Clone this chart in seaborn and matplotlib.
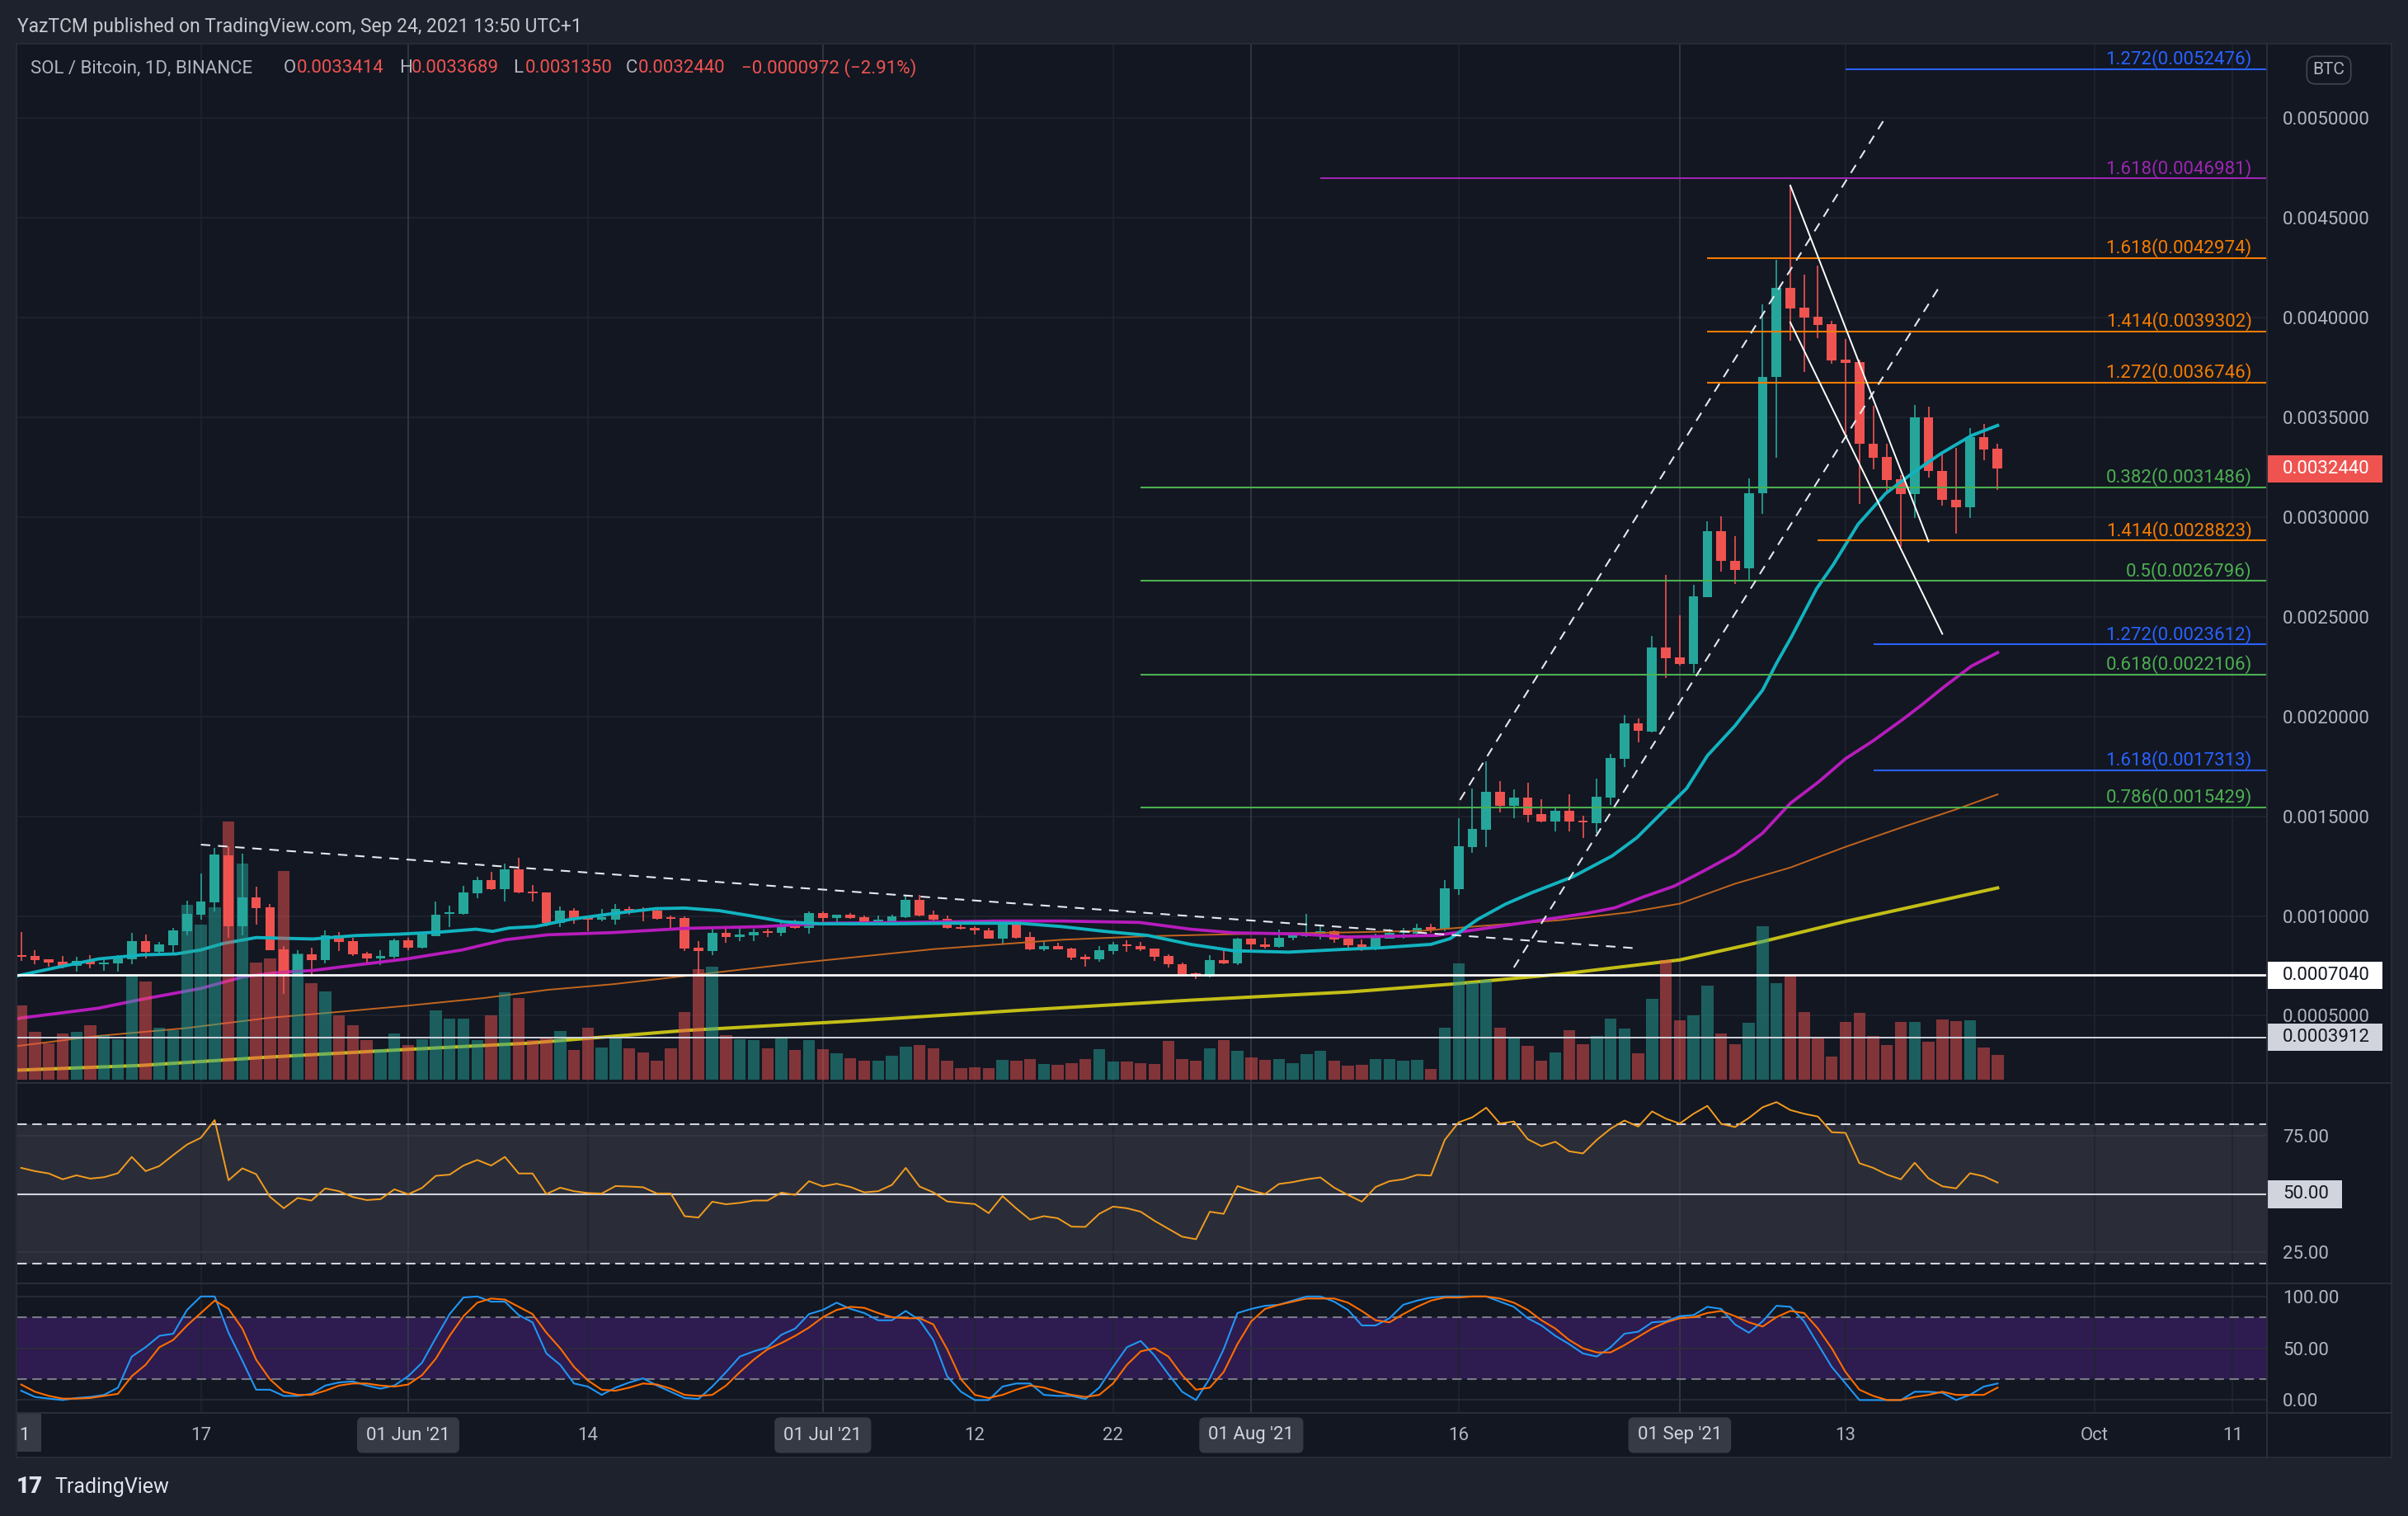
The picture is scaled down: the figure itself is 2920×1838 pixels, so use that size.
import numpy as np
import pandas as pd
import matplotlib
matplotlib.use("Agg")
import matplotlib.pyplot as plt
import matplotlib.transforms as mtransforms
from matplotlib.patches import Rectangle
from matplotlib.lines import Line2D
import seaborn as sns

plt.rcParams["font.family"] = ["Roboto", "DejaVu Sans"]

# ---------------- data: SOL / BTC daily, Binance (prices in 1e-4 BTC) ----------------
dates = pd.date_range("2021-05-04", "2021-09-24", freq="D")
day = np.arange(len(dates))  # days since 4 May 2021

open_ = [8.03, 8.00, 7.83, 7.71, 7.52, 7.74, 7.57, 7.64, 7.85, 8.73, 8.22, 8.55, 9.25, 10.08, 10.70, 13.04, 9.50, 10.93, 10.44, 8.33,
         7.09, 8.08, 7.81, 9.03, 8.74, 8.12, 7.89, 7.96,
         8.78, 8.43, 9.00, 10.09, 10.11, 11.15, 11.79, 11.35, 12.34, 11.22, 11.18, 9.65, 10.26, 9.94, 9.82, 9.83, 10.36, 10.31,
         10.27, 9.91, 9.90, 8.41, 8.26, 9.16, 8.96, 9.05, 9.23, 9.17, 9.57, 9.42,
         10.15, 9.91, 10.05, 9.94, 9.72, 9.74, 9.94, 10.81, 10.07, 9.86, 9.45, 9.40, 9.29, 8.88, 9.60, 8.95, 8.34, 8.48, 8.37, 7.96,
         7.85, 8.26, 8.58, 8.50, 8.37, 8.00, 7.59, 7.12, 6.95, 7.79, 7.64,
         8.87, 8.58, 8.47, 8.91, 8.98, 9.10, 9.24, 8.87, 8.58, 8.39, 8.87, 9.15, 9.10, 9.43, 9.31, 11.36, 13.47, 14.32, 16.23, 15.54,
         15.93, 15.10, 14.73, 15.28, 14.78, 14.66, 15.93, 17.88, 19.65, 19.24, 23.47,
         22.96, 22.64, 25.99, 29.28, 27.82, 27.43, 31.22, 37.02, 41.50, 40.49, 40.07, 39.68, 37.92, 37.77, 33.70, 33.02, 31.91, 31.16,
         35.02, 32.33, 30.89, 30.48, 34.00, 33.414]
high = [9.20, 8.29, 7.85, 8.00, 7.96, 8.03, 7.82, 8.05, 9.16, 9.06, 8.69, 9.40, 10.77, 12.13, 13.40, 13.50, 13.13, 11.47, 10.60, 8.50,
        8.29, 8.40, 9.28, 9.20, 8.91, 8.22, 8.27, 8.87,
        8.92, 9.17, 10.73, 10.52, 11.51, 11.97, 12.20, 12.62, 12.92, 11.55, 11.20, 10.48, 10.40, 9.97, 10.36, 10.60, 10.49, 10.42,
        10.38, 10.02, 9.98, 8.74, 9.45, 9.45, 9.39, 9.38, 9.36, 9.83, 9.83, 10.22,
        10.22, 10.07, 10.15, 10.02, 10.02, 10.07, 11.02, 11.06, 10.26, 10.01, 9.57, 9.50, 9.39, 9.75, 9.62, 9.20, 8.73, 8.67, 8.40,
        8.08, 8.50, 8.69, 8.78, 8.70, 8.38, 8.10, 7.67, 7.17, 8.04, 8.29, 8.89,
        8.88, 8.91, 9.32, 9.17, 10.11, 9.57, 9.28, 8.99, 8.83, 9.13, 9.36, 9.40, 9.63, 9.63, 11.82, 14.89, 16.39, 17.74, 16.76, 16.34,
        16.69, 15.86, 15.47, 16.11, 15.03, 16.89, 18.13, 20.06, 19.90, 24.04, 27.10,
        25.07, 26.62, 29.79, 30.03, 29.07, 31.94, 40.67, 42.91, 46.67, 42.16, 42.61, 39.86, 38.93, 37.92, 35.59, 33.70, 32.12, 35.62,
        35.56, 33.28, 33.46, 34.45, 34.66, 33.689]
low = [7.75, 7.59, 7.48, 7.38, 7.23, 7.38, 7.27, 7.23, 7.59, 7.89, 8.10, 8.16, 9.03, 9.82, 10.22, 8.92, 9.03, 9.58, 8.28, 6.10,
       6.99, 6.99, 7.64, 8.25, 8.00, 7.56, 7.54, 7.89,
       8.30, 8.37, 8.98, 9.45, 10.05, 10.91, 11.31, 10.73, 11.15, 10.74, 9.47, 9.43, 9.61, 9.25, 9.75, 9.58, 10.05, 9.72, 9.83, 9.34,
       8.26, 6.99, 8.05, 8.66, 8.76, 8.76, 8.96, 9.00, 9.36, 9.13,
       9.69, 9.61, 9.87, 9.64, 9.64, 9.71, 9.91, 10.00, 9.75, 9.38, 9.31, 9.09, 8.87, 8.59, 8.88, 8.29, 8.26, 8.33, 7.81, 7.48,
       7.72, 8.10, 8.22, 8.26, 7.76, 7.41, 7.06, 6.86, 6.91, 7.59, 7.56,
       8.30, 8.38, 8.41, 8.80, 8.96, 8.84, 8.65, 8.41, 8.25, 8.30, 8.85, 8.87, 9.08, 9.17, 9.22, 11.06, 13.17, 13.45, 15.19, 14.89,
       14.71, 14.69, 14.25, 14.25, 13.91, 14.16, 15.56, 17.47, 18.71, 19.19, 21.93,
       22.55, 22.17, 25.99, 27.28, 26.65, 26.86, 30.15, 32.96, 38.87, 37.26, 38.96, 37.71, 34.18, 30.65, 32.39, 31.25, 28.50, 29.97,
       32.00, 30.59, 29.16, 29.97, 32.87, 31.35]
close = [7.96, 7.81, 7.68, 7.50, 7.74, 7.60, 7.67, 7.89, 8.73, 8.22, 8.58, 9.28, 10.11, 10.71, 13.08, 9.50, 10.95, 10.41, 8.30, 7.09,
         8.08, 7.81, 9.03, 8.72, 8.10, 7.89, 8.00, 8.78,
         8.43, 9.07, 10.07, 10.15, 11.18, 11.79, 11.35, 12.34, 11.18, 11.15, 9.65, 10.26, 9.91, 9.80, 9.96, 10.34, 10.27, 10.26,
         9.87, 9.86, 8.37, 8.26, 9.16, 8.96, 9.07, 9.20, 9.14, 9.57, 9.42, 10.15,
         9.91, 10.05, 9.91, 9.71, 9.78, 9.98, 10.81, 10.04, 9.82, 9.42, 9.38, 9.29, 8.88, 9.61, 8.92, 8.33, 8.48, 8.34, 7.93, 7.85,
         8.27, 8.58, 8.48, 8.34, 7.97, 7.57, 7.09, 6.95, 7.79, 7.64, 8.87,
         8.56, 8.44, 8.91, 9.02, 9.12, 9.24, 8.84, 8.53, 8.35, 8.92, 9.15, 9.24, 9.40, 9.31, 11.40, 13.49, 14.37, 16.23, 15.54, 15.93,
         15.08, 14.73, 15.28, 14.73, 14.69, 15.97, 17.93, 19.65, 19.28, 23.47, 22.91,
         22.64, 26.05, 29.28, 27.79, 27.37, 31.22, 37.02, 41.50, 40.46, 40.01, 39.62, 37.86, 37.74, 33.70, 32.96, 31.85, 31.16, 35.02,
         32.30, 30.86, 30.48, 34.00, 33.412, 32.44]
# volume, relative units
volume = [90, 58, 44, 56, 58, 66, 54, 49, 128, 119, 63, 60, 212, 188, 209, 313, 262, 142, 147, 253, 153, 117, 107, 78, 66, 48, 37, 56,
          42, 49, 84, 74, 74, 48, 78, 106, 99, 48, 51, 59, 36, 63, 39, 50, 38, 33, 23, 38, 82, 134, 137, 54, 49, 48, 38, 51, 36, 48,
          37, 32, 26, 23, 23, 29, 40, 42, 38, 23, 14, 15, 14, 24, 23, 25, 19, 18, 20, 25, 37, 22, 22, 20, 19, 47, 25, 23, 38, 48, 35,
          27, 24, 25, 20, 31, 35, 23, 17, 18, 25, 25, 23, 24, 13, 63, 141, 118, 121, 63, 52, 41, 23, 33, 60, 43, 53, 74, 62, 32, 98, 145,
          72, 78, 114, 56, 43, 69, 186, 117, 126, 82, 50, 28, 70, 81, 53, 42, 70, 70, 46, 73, 71, 72, 39, 30]

# moving averages read at sample days
ma20_day = [-0.3, 2.5, 5.6, 8.7, 11.2, 13.0, 14.6, 17.0, 19.2, 21.1, 24.2, 27.3, 30.4, 32.9, 34.1, 35.3, 37.2, 39.7, 42.8, 45.9,
            48.0, 50.5, 52.7, 55.2, 57.9, 62.9, 67.6, 72.2, 75.3, 78.4, 81.5, 84.6, 87.7, 91.7, 96.0, 98.4, 102.0, 103.4, 105.4,
            107.4, 109.3, 112.3, 115.1, 116.9, 118.9, 120.5, 122.0, 124.0, 126.0, 127.0, 128.1, 129.9, 131.1, 132.9, 134.9, 136.9,
            138.9, 141.1, 143.0]
ma20 = [7.00, 7.41, 7.85, 8.05, 8.10, 8.30, 8.62, 8.92, 8.88, 8.85, 9.02, 9.09, 9.20, 9.34, 9.23, 9.40, 9.47, 9.83, 10.12, 10.37,
        10.40, 10.27, 10.02, 9.71, 9.61, 9.61, 9.64, 9.64, 9.47, 9.23, 9.03, 8.58, 8.26, 8.19, 8.34, 8.41, 8.58, 8.87, 9.84, 10.60,
        11.17, 11.98, 13.01, 13.93, 15.31, 16.4, 18.04, 19.54, 21.33, 22.67, 24.02, 26.41, 27.61, 29.64, 31.19, 32.24, 33.19, 34.09,
        34.60]
ma50_day = [-0.3, 5.6, 8.7, 13.0, 16.1, 18.6, 21.1, 24.2, 27.9, 31.9, 35.0, 38.1, 42.8, 48.0, 53.6, 58.3, 62.9, 70.7, 75.3, 80.9,
            84.6, 87.7, 92.4, 96.0, 99.4, 102.4, 105.4, 109.3, 113.3, 115.3, 117.3, 119.6, 121.6, 124.0, 126.0, 128.0, 130.0,
            132.0, 134.0, 136.1, 137.5, 139.1, 141.1, 143.0]
ma50 = [4.86, 5.38, 5.82, 6.37, 6.96, 7.17, 7.27, 7.54, 7.85, 8.30, 8.81, 9.06, 9.17, 9.38, 9.47, 9.64, 9.67, 9.75, 9.75, 9.68,
        9.34, 9.16, 9.10, 8.95, 8.99, 9.03, 9.33, 9.72, 10.14, 10.41, 10.94, 11.50, 12.21, 13.11, 14.16, 15.65, 16.70, 17.89, 18.79,
        19.84, 20.58, 21.48, 22.53, 23.21]
ma100_day = [-0.3, 5.6, 11.8, 18.0, 22.6, 27.9, 33.5, 38.1, 42.8, 48.0, 56.7, 66.0, 75.3, 81.5, 87.7, 96.0, 101.4, 105.4, 111.3,
             116.3, 120.0, 124.0, 128.0, 132.0, 136.0, 140.0, 143.0]
ma100 = [3.48, 3.99, 4.37, 4.90, 5.17, 5.50, 5.89, 6.30, 6.58, 6.99, 7.68, 8.34, 8.81, 8.99, 9.09, 9.18, 9.26, 9.49, 9.79, 10.18,
         10.62, 11.62, 12.43, 13.47, 14.43, 15.35, 16.10]
ma200_day = [-0.3, 8.7, 18.0, 27.9, 36.6, 48.0, 59.8, 72.2, 84.6, 96.0, 103.4, 111.3, 120.0, 126.0, 132.0, 137.9, 143.0]
ma200 = [2.27, 2.51, 2.93, 3.31, 3.62, 4.26, 4.72, 5.27, 5.78, 6.19, 6.58, 7.08, 7.80, 8.72, 9.73, 10.63, 11.41]

rsi = [61.2, 59.8, 58.8, 56.3, 58.0, 56.6, 57.2, 58.9, 65.9, 59.8, 62.0, 66.7, 71.2, 74.1, 81.7, 55.9, 61.0, 58.5, 48.8, 43.9,
       48.3, 47.2, 52.4, 51.2, 48.7, 47.4, 47.8, 52.0, 49.9, 52.6, 57.8, 58.3, 62.2, 64.6, 62.2, 65.9, 58.8, 58.8, 50.0, 52.7,
       51.2, 50.4, 50.2, 53.4, 53.2, 52.9, 50.2, 50.2, 40.5, 39.9, 46.7, 45.6, 46.2, 47.2, 47.2, 50.6, 49.6, 55.5, 53.3, 54.4,
       53.0, 50.7, 51.2, 53.9, 61.2, 53.2, 50.7, 46.8, 46.2, 45.7, 41.8, 49.1, 43.8, 39.0, 40.5, 39.6, 36.0, 35.9, 41.5, 44.6,
       43.9, 42.4, 38.5, 35.1, 31.7, 30.6, 42.4, 41.5,
       53.4, 51.5, 50.0, 54.3, 55.1, 56.3, 57.1, 52.7, 49.6, 46.7, 53.0, 55.5, 56.3, 58.2, 57.9, 73.2, 80.7, 82.9, 87.0, 80.2,
       81.1, 73.5, 70.5, 72.4, 68.3, 67.4, 73.2, 78.0, 81.5, 78.9, 85.4, 82.3, 80.2, 84.4, 87.8, 80.1, 78.7, 82.6, 87.2, 89.4,
       86.0, 84.4, 83.2, 76.5, 76.2, 63.2, 61.2, 58.3, 56.3, 63.4, 56.7, 53.3, 52.4, 58.9, 57.6, 54.9]
stoch_k = [9, 3, 1.4, 0, 2, 3, 5, 12, 42, 51, 62, 64, 87, 100, 100, 65, 38, 10, 10, 4, 4, 6, 14, 17, 18, 14, 11, 14, 23, 36,
           60, 83, 99, 100, 95, 95, 82, 75, 45, 34, 16, 13, 5, 12, 17, 21, 14, 8, 2, 1, 13, 27, 42, 47, 51, 63, 69, 83, 87, 94,
           88, 84, 77, 77, 86, 77, 58, 23, 8, 0, 0, 13, 16, 16, 5, 4, 4, 1, 12, 32, 51, 57, 43, 25, 8, 0, 21, 49,
           84, 88, 91, 92, 96, 100, 100, 95, 87, 72, 72, 79, 92, 96, 99, 100, 100, 100, 100, 95, 90, 79, 72, 62, 54, 45, 42, 51,
           64, 66, 75, 76, 81, 82, 90, 88, 73, 65, 76, 91, 90, 76, 54, 32, 16, 0, 0, 0, 0, 8, 8, 7, 0, 5, 13, 16]
stoch_d = [15, 8, 4, 1.4, 1.4, 2, 4, 6, 23, 34, 51, 58, 72, 84, 96, 88, 69, 39, 20, 8, 5, 5, 9, 14, 16, 16, 14, 13, 15, 24,
           40, 62, 81, 94, 98, 97, 90, 83, 65, 50, 32, 19, 10, 9, 12, 16, 15, 11, 5, 4, 5, 14, 27, 39, 49, 55, 62, 70, 80, 87,
           90, 89, 84, 80, 79, 79, 73, 49, 20, 5, 2, 5, 10, 14, 12, 8, 5, 3, 5, 16, 34, 47, 50, 42, 24, 10, 12, 27,
           54, 76, 88, 92, 95, 98, 98, 98, 94, 86, 77, 75, 83, 90, 96, 99, 99, 100, 100, 98, 94, 87, 77, 69, 58, 50, 46, 46,
           53, 61, 69, 75, 79, 80, 84, 86, 81, 75, 71, 80, 86, 84, 69, 50, 27, 10, 4, 0, 0, 3, 5, 8, 5, 5, 5, 12]

# drawings on the chart
fib_ratio = ["1.272", "1.618", "1.618", "1.414", "1.272", "0.382", "1.414", "0.5", "1.272", "0.618", "1.618", "0.786"]
fib_price = [52.476, 46.981, 42.974, 39.302, 36.746, 31.486, 28.823, 26.796, 23.612, 22.106, 17.313, 15.429]
fib_from = [132, 94, 122, 122, 122, 81, 130, 81, 134, 81, 134, 81]
fib_kind = ["blue", "purple", "orange", "orange", "orange", "green", "orange", "green", "blue", "green", "blue", "green"]
level_white = 7.040
level_grey = 3.912
dash_lines = {"desc": ([13.0, 117.1], [13.58, 8.37]),
              "ch_up": ([104.1, 134.9], [15.82, 50.06]),
              "ch_lo": ([108.0, 138.9], [7.42, 41.68])}
solid_lines = {"w1": ([128.0, 138.0], [46.63, 28.78]),
               "w2": ([128.0, 139.0], [39.77, 24.15])}

tick_day = [13, 28, 41, 58, 69, 79, 89, 104, 120, 132, 150, 160]
tick_text = ["17", "01 Jun '21", "14", "01 Jul '21", "12", "22", "01 Aug '21", "16", "01 Sep '21", "13", "Oct", "11"]

# ---------------- style ----------------
W, H = 2920, 1838
BG, OUTER, BORDER = "#131722", "#1e222d", "#2a2e39"
GRID, GRID_M = "#20242f", "#363a45"
TXT = "#b2b5be"
UP, DOWN = "#26a69a", "#ef5350"
FIBC = {"blue": "#2962ff", "purple": "#9c27b0", "orange": "#f57c00", "green": "#4caf50"}
XL, XR = -0.28, 162.49
FS = 16

fig = plt.figure(figsize=(W / 100, H / 100), dpi=100)
fig.patch.set_facecolor(OUTER)
fig.add_artist(Rectangle((20 / W, 1 - 1767 / H), 2880 / W, 1714 / H, transform=fig.transFigure,
                         facecolor=BG, edgecolor=BORDER, lw=1.2, zorder=-10))


def add_ax(x0, y0, x1, y1):
    a = fig.add_axes([x0 / W, 1 - y1 / H, (x1 - x0) / W, (y1 - y0) / H])
    a.set_facecolor("none")
    for s in a.spines.values():
        s.set_visible(False)
    a.set_xlim(XL, XR)
    a.set_xticks([])
    return a


ax = add_ax(21, 54, 2749, 1312)
ax.set_ylim(1.67, 53.70)
axv = ax.twinx()
axv.set_ylim(-3, 1255)
axp = ax.twinx()
axp.set_ylim(1.67, 53.70)
for a in (axv, axp):
    for s in a.spines.values():
        s.set_visible(False)
    a.set_yticks([])
    a.set_xlim(XL, XR)

ax_r = add_ax(21, 1313, 2749, 1555)
ax_r.set_ylim(12.02, 97.6)
ax_s = add_ax(21, 1556, 2749, 1712)
ax_s.set_ylim(-11.6, 112.6)
ax_t = add_ax(21, 1713, 2749, 1767)
ax_t.set_ylim(0, 1)
ax_t.set_yticks([])

# separators
for yy in (1312.5, 1555.5, 1712.5):
    fig.add_artist(Line2D([20 / W, 2900 / W], [1 - yy / H] * 2, color=BORDER, lw=1.5, zorder=30))
fig.add_artist(Line2D([2749 / W] * 2, [1 - 53 / H, 1 - 1767 / H], color=BORDER, lw=1.5, zorder=30))

# grid
for v in range(5, 55, 5):
    ax.axhline(v, color=GRID, lw=1.2, zorder=0)
for d, t in zip(tick_day, tick_text):
    c = GRID_M if t.startswith("01") else GRID
    for a in (ax, ax_r, ax_s):
        a.axvline(d, color=c, lw=1.2, zorder=0.5)

# ---------------- main pane ----------------
o, h_, l_, c_ = map(np.array, (open_, high, low, close))
up = c_ >= o
cols = np.where(up, UP, DOWN)
ax.vlines(day, l_, h_, colors=cols, lw=1.2, zorder=2)
ax.bar(day, np.maximum(np.abs(c_ - o), 0.08), bottom=np.minimum(o, c_), width=0.7, color=cols, lw=0, zorder=2.5)

sns.lineplot(x=ma200_day, y=ma200, ax=ax, color="#c3be16", lw=2.9, zorder=3, legend=False)
sns.lineplot(x=ma100_day, y=ma100, ax=ax, color="#c2651e", lw=1.4, zorder=3, legend=False)
sns.lineplot(x=ma50_day, y=ma50, ax=ax, color="#b71cbc", lw=2.7, zorder=3, legend=False)
sns.lineplot(x=ma20_day, y=ma20, ax=ax, color="#12b3c0", lw=2.8, zorder=3, legend=False)
ax.set_xlim(XL, XR)
ax.set_ylim(1.67, 53.70)
ax.set_xlabel("")
ax.set_ylabel("")

axv.bar(day, volume, width=0.86, color=cols, alpha=0.5, lw=0)

axp.axhline(level_white, color="#ffffff", lw=2.0, zorder=2)
axp.axhline(level_grey, color="#d1d4dc", lw=1.4, zorder=2)
for r, v, d0, k in zip(fib_ratio, fib_price, fib_from, fib_kind):
    axp.hlines(v, d0, XR, color=FIBC[k], lw=1.5, zorder=3)
    axp.text(161.4, v + 0.25, f"{r}({v * 1e-4:.7f})", color=FIBC[k], fontsize=FS, ha="right", va="baseline", zorder=4)
for xs, ys in dash_lines.values():
    axp.plot(xs, ys, color="#e6e8ee", lw=1.5, dashes=(5.5, 4.5), zorder=4)
for xs, ys in solid_lines.values():
    axp.plot(xs, ys, color="#ffffff", lw=1.4, zorder=4)

# price axis
ax.yaxis.tick_right()
ax.set_yticks(np.arange(5, 55, 5))
ax.set_yticklabels([f"{v * 1e-4:.7f}" for v in np.arange(5, 55, 5)])
ax.tick_params(axis="y", length=0, pad=13.7, labelsize=FS, labelcolor=TXT)


def axis_tag(a, val, txt, fc, tc, w_px, h_px, units_per_px):
    tr = mtransforms.blended_transform_factory(a.transAxes, a.transData)
    aw = a.bbox.width
    hh = h_px / 2 * units_per_px
    a.add_patch(Rectangle((1.0, val - hh), w_px / aw, 2 * hh, transform=tr, facecolor=fc, edgecolor="none",
                          clip_on=False, zorder=20))
    a.text(1 + 19 / aw, val, txt, transform=tr, color=tc, fontsize=FS, ha="left", va="center", clip_on=False, zorder=21)


axis_tag(axp, close[-1], f"{close[-1] * 1e-4:.7f}", DOWN, "#ffffff", 140, 33, 1 / 24.18)
axis_tag(axp, level_white, f"{level_white * 1e-4:.7f}", "#ffffff", "#131722", 140, 33, 1 / 24.18)
axis_tag(axp, level_grey, f"{level_grey * 1e-4:.7f}", "#d1d4dc", "#131722", 140, 33, 1 / 24.18)

fig.text(2824 / W, 1 - 85 / H, "BTC", color=TXT, fontsize=FS - 1, ha="center", va="center",
         bbox=dict(boxstyle="round,pad=0.35,rounding_size=0.5", fc=BG, ec="#434651", lw=1.2))

# ---------------- RSI ----------------
ax_r.axhspan(20, 80, color="#2a2d38", lw=0, zorder=0)
for v in (25, 75):
    ax_r.axhline(v, color="#363944", lw=1.2, zorder=0.6)
for v in (20, 80):
    ax_r.axhline(v, color="#d1d4dc", lw=1.5, dashes=(5.5, 3.2), zorder=1)
ax_r.axhline(50, color="#d1d4dc", lw=1.5, zorder=1)
sns.lineplot(x=day, y=rsi, ax=ax_r, color="#f39c1e", lw=1.4, zorder=3, legend=False)
ax_r.set_xlim(XL, XR)
ax_r.set_ylim(12.02, 97.6)
ax_r.set_xlabel("")
ax_r.set_ylabel("")
ax_r.yaxis.tick_right()
ax_r.set_yticks([25, 75])
ax_r.set_yticklabels(["25.00", "75.00"])
ax_r.tick_params(axis="y", length=0, pad=13.7, labelsize=FS, labelcolor=TXT)
axis_tag(ax_r, 50, "50.00", "#d1d4dc", "#131722", 91, 34, 1 / 2.828)

# ---------------- Stoch RSI ----------------
ax_s.axhspan(20, 80, color="#2e1b4f", lw=0, zorder=0)
for v in (0, 50, 100):
    ax_s.axhline(v, color="#2a2e39", lw=1.2, zorder=0.6)
for v in (20, 80):
    ax_s.axhline(v, color="#787b86", lw=1.5, dashes=(5.5, 3.2), zorder=1)
sns.lineplot(x=day, y=stoch_k, ax=ax_s, color="#2196f3", lw=1.5, zorder=3, legend=False)
sns.lineplot(x=day, y=stoch_d, ax=ax_s, color="#ff6d00", lw=1.5, zorder=3.5, legend=False)
ax_s.set_xlim(XL, XR)
ax_s.set_ylim(-11.6, 112.6)
ax_s.set_xlabel("")
ax_s.set_ylabel("")
ax_s.yaxis.tick_right()
ax_s.set_yticks([0, 50, 100])
ax_s.set_yticklabels(["0.00", "50.00", "100.00"])
ax_s.tick_params(axis="y", length=0, pad=13.7, labelsize=FS, labelcolor=TXT)

# ---------------- time axis ----------------
trt = mtransforms.blended_transform_factory(ax_t.transData, ax_t.transAxes)
box = dict(boxstyle="round,pad=0.5,rounding_size=0.3", fc="#363a45", ec="none")
for d, t in zip(tick_day, tick_text):
    if t.startswith("01"):
        ax_t.text(d, 0.5, t, transform=trt, ha="center", va="center", fontsize=FS, color="#d1d4dc", bbox=box)
    else:
        ax_t.text(d, 0.5, t, transform=trt, ha="center", va="center", fontsize=FS, color=TXT)
# month label of May, mostly scrolled out of view on the left
ax_t.add_patch(Rectangle((XL, 0.13), 1.45 - XL, 0.87, transform=trt, facecolor="#363a45", edgecolor="none"))
ax_t.text(-0.12, 0.5, "1", transform=trt, ha="left", va="center", fontsize=FS, color="#d1d4dc")

# ---------------- header / legend / logo ----------------
fig.text(21 / W, 1 - 32 / H, "YazTCM published on TradingView.com, Sep 24, 2021 13:50 UTC+1",
         color="#c5c8ce", fontsize=16.5, va="center")
chg = close[-1] - close[-2]
legend_parts = [("SOL / Bitcoin, 1D, BINANCE", 37, TXT),
                ("O", 344, TXT), (f"{open_[-1] * 1e-4:.7f}", 360, DOWN),
                ("H", 484, TXT), (f"{high[-1] * 1e-4:.7f}", 499, DOWN),
                ("L", 622, TXT), (f"{low[-1] * 1e-4:.7f}", 637, DOWN),
                ("C", 759, TXT), (f"{close[-1] * 1e-4:.7f}", 774, DOWN),
                (f"\u2212{abs(chg) * 1e-4:.7f} (\u2212{abs(chg) / close[-2] * 100:.2f}%)", 899, DOWN)]
for txt, xx, cc in legend_parts:
    fig.text(xx / W, 1 - 83 / H, txt, color=cc, fontsize=FS, va="center", ha="left")

fig.text(20 / W, 1 - 1803 / H, "17", color="#e0e3eb", fontsize=20, fontweight="heavy", va="center")
fig.text(66 / W, 1 - 1803 / H, "TradingView", color="#e0e3eb", fontsize=18, va="center")

fig.savefig("out.png", dpi=100, facecolor=fig.get_facecolor())
